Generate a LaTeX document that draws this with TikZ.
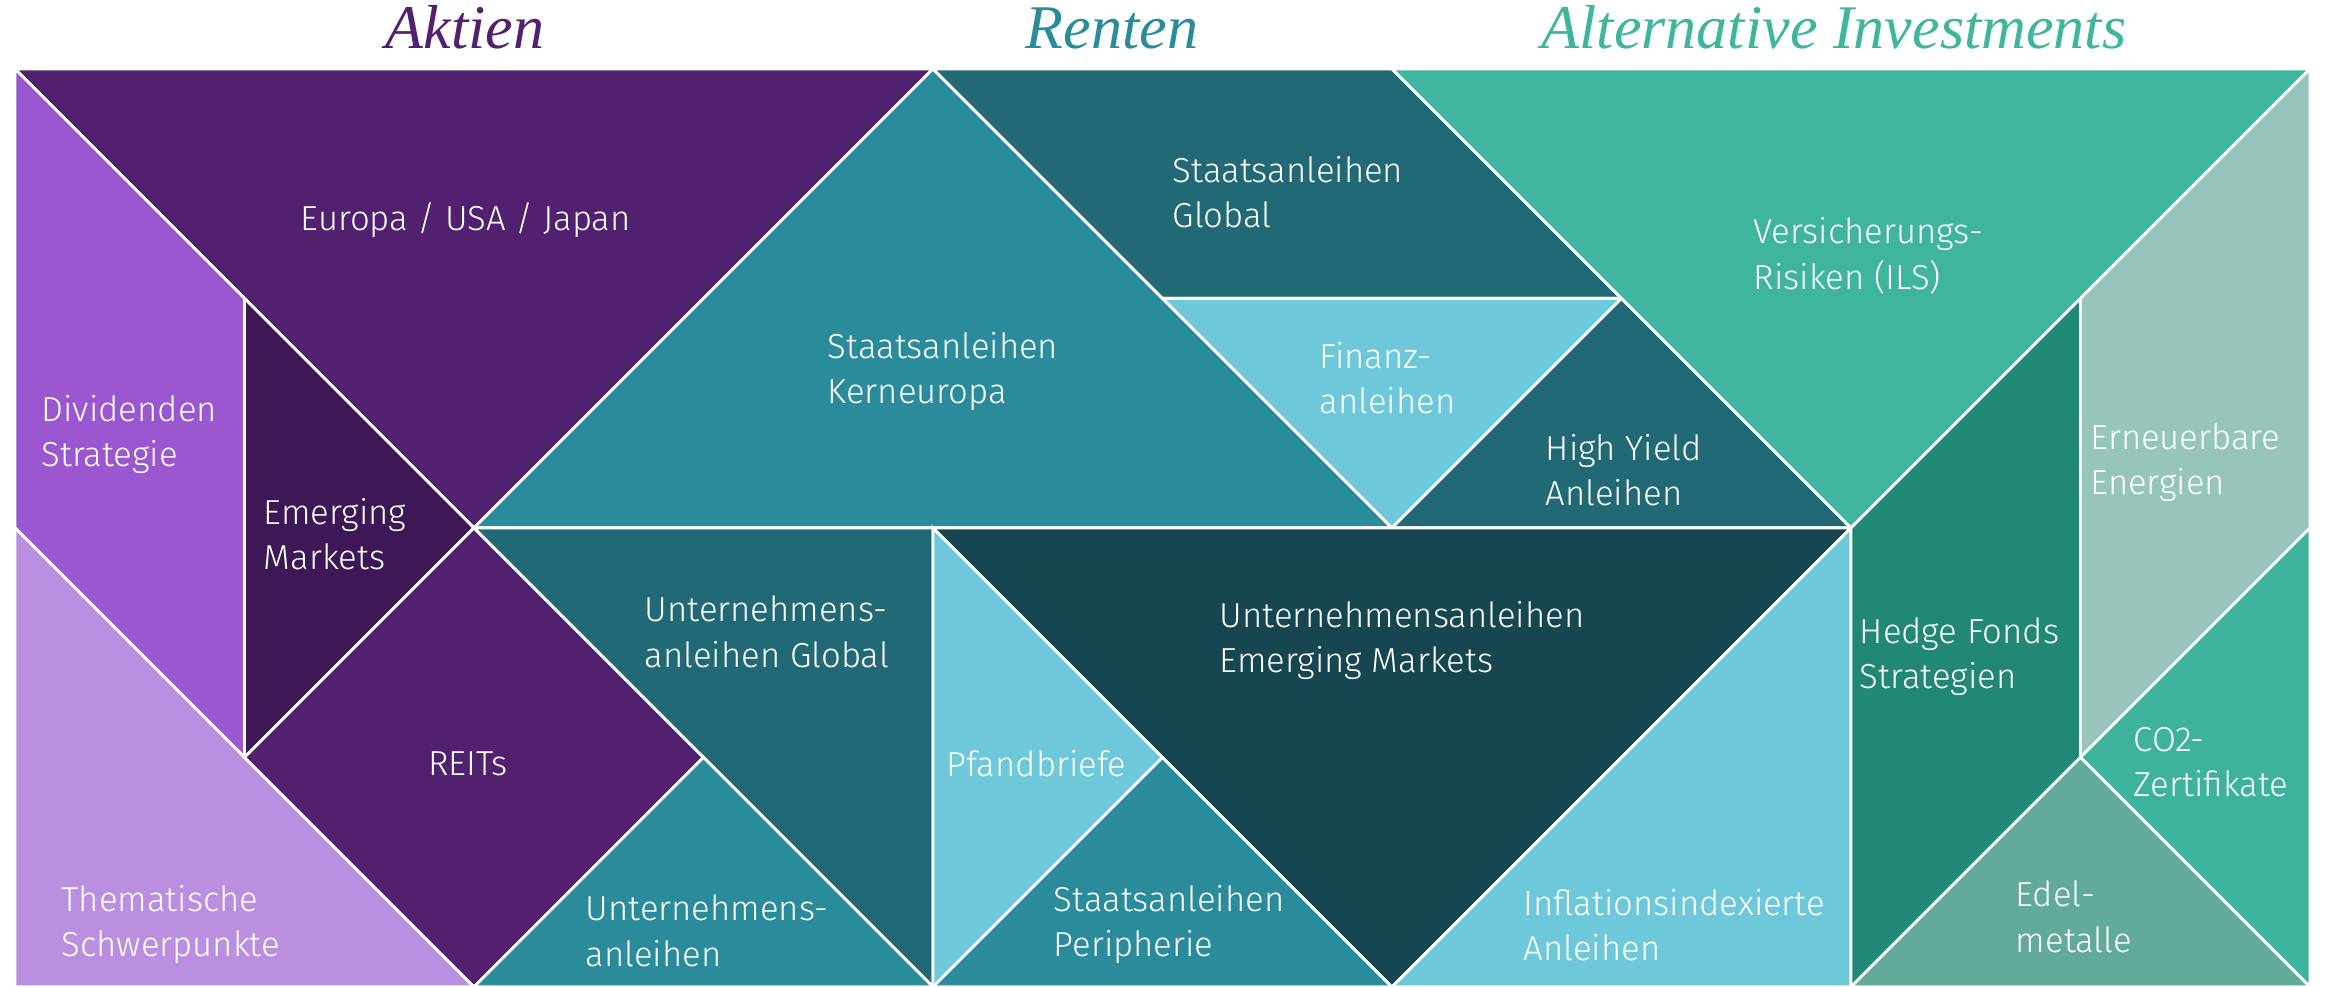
\documentclass[tikz,border=0pt]{standalone}
\usepackage{fontspec}
\newfontfamily\tileFont{Fira Sans Light}
\newfontfamily\titleFont{Liberation Serif}

\definecolor{aktienDark}{HTML}{51206F}
\definecolor{aktienMid}{HTML}{9A57D0}
\definecolor{aktienDeep}{HTML}{3E1856}
\definecolor{aktienLight}{HTML}{BB8FDF}
\definecolor{rentenTeal}{HTML}{2A8C9B}
\definecolor{rentenDark}{HTML}{216A75}
\definecolor{rentenLight}{HTML}{6DC9D9}
\definecolor{rentenDeep}{HTML}{164650}
\definecolor{altGreen}{HTML}{40B59D}
\definecolor{altPale}{HTML}{96C5BC}
\definecolor{altDark}{HTML}{218873}
\definecolor{altMid}{HTML}{3DB39C}
\definecolor{altSage}{HTML}{62AB9A}

\begin{document}
\begin{tikzpicture}[scale = 2]
	\tikzstyle{tileStyle} = [draw = white, line width = 0.7pt, line join = miter]
	\tikzstyle{labeledStyle} = [text = white, inner sep = 0pt, anchor = west, align = left, font = \tileFont\fontsize{8.6}{11.2}\selectfont]
	\tikzstyle{titleStyle} = [inner sep = 0pt, anchor = base, font = \titleFont\itshape\fontsize{15.4}{18}\selectfont]
	\useasboundingbox (-0.065, 0) rectangle (10.07, 4.30);
	\begin{scope}
	\clip (-0.065, 0) rectangle (10.07, 4.30);
	% Aktien
	\filldraw[tileStyle, fill = aktienDark] (0,4) -- (4,4) -- (2,2) -- cycle;
	\filldraw[tileStyle, fill = aktienMid] (0,4) -- (1,3) -- (1,1) -- (0,2) -- cycle;
	\filldraw[tileStyle, fill = aktienDeep] (1,3) -- (2,2) -- (1,1) -- cycle;
	\filldraw[tileStyle, fill = aktienLight] (0,2) -- (2,0) -- (0,0) -- cycle;
	\filldraw[tileStyle, fill = aktienDark] (2,2) -- (3,1) -- (2,0) -- (1,1) -- cycle;
	% Renten
	\filldraw[tileStyle, fill = rentenTeal] (2,2) -- (4,4) -- (6,2) -- cycle;
	\filldraw[tileStyle, fill = rentenDark] (4,4) -- (6,4) -- (7,3) -- (5,3) -- cycle;
	\filldraw[tileStyle, fill = rentenLight] (5,3) -- (7,3) -- (6,2) -- cycle;
	\filldraw[tileStyle, fill = rentenDark] (7,3) -- (8,2) -- (6,2) -- cycle;
	\filldraw[tileStyle, fill = rentenDark] (2,2) -- (4,2) -- (4,0) -- (3,1) -- cycle;
	\filldraw[tileStyle, fill = rentenTeal] (3,1) -- (4,0) -- (2,0) -- cycle;
	\filldraw[tileStyle, fill = rentenLight] (4,2) -- (5,1) -- (4,0) -- cycle;
	\filldraw[tileStyle, fill = rentenTeal] (5,1) -- (6,0) -- (4,0) -- cycle;
	\filldraw[tileStyle, fill = rentenDeep] (4,2) -- (8,2) -- (6,0) -- cycle;
	\filldraw[tileStyle, fill = rentenLight] (8,2) -- (8,0) -- (6,0) -- cycle;
	% Alternative Investments
	\filldraw[tileStyle, fill = altGreen] (6,4) -- (10,4) -- (8,2) -- cycle;
	\filldraw[tileStyle, fill = altPale] (10,4) -- (9,3) -- (9,1) -- (10,2) -- cycle;
	\filldraw[tileStyle, fill = altDark] (8,2) -- (9,3) -- (9,1) -- (8,0) -- cycle;
	\filldraw[tileStyle, fill = altMid] (10,2) -- (9,1) -- (10,0) -- cycle;
	\filldraw[tileStyle, fill = altSage] (9,1) -- (8,0) -- (10,0) -- cycle;
	\end{scope}
	% titles
	\node[titleStyle, text = aktienDark] (h0) at (1.961, 4.09) {Aktien};
	\node[titleStyle, text = rentenTeal] (h1) at (4.78, 4.09) {Renten};
	\node[titleStyle, text = altGreen] (h2) at (7.926, 4.09) {Alternative Investments};
	% labels
	\node[labeledStyle] (t0) at (1.242, 3.342) {Europa / USA / Japan};
	\node[labeledStyle] (t1) at (0.113, 2.405) {Dividenden\\Strategie};
	\node[labeledStyle] (t2) at (1.081, 1.974) {Emerging\\Markets};
	\node[labeledStyle] (t3) at (0.200, 0.270) {Thematische\\Schwerpunkte};
	\node[labeledStyle, anchor = center] (t4) at (1.974, 0.972) {REITs};
	\node[labeledStyle] (t5) at (3.538, 2.680) {Staatsanleihen\\Kerneuropa};
	\node[labeledStyle] (t6) at (5.041, 3.464) {Staatsanleihen\\Global};
	\node[labeledStyle] (t7) at (5.682, 2.654) {Finanz-\\anleihen};
	\node[labeledStyle] (t8) at (6.667, 2.253) {High Yield\\Anleihen};
	\node[labeledStyle] (t9) at (2.741, 1.547) {Unternehmens-\\anleihen Global};
	\node[labeledStyle] (t10) at (2.484, 0.244) {Unternehmens-\\anleihen};
	\node[labeledStyle] (t11) at (4.057, 0.972) {Pfandbriefe};
	\node[labeledStyle] (t12) at (4.523, 0.270) {Staatsanleihen\\Peripherie};
	\node[labeledStyle] (t13) at (5.246, 1.508) {Unternehmensanleihen\\Emerging Markets};
	\node[labeledStyle] (t14) at (6.571, 0.270) {Inflationsindexierte\\Anleihen};
	\node[labeledStyle] (t15) at (7.573, 3.185) {Versicherungs-\\Risiken (ILS)};
	\node[labeledStyle] (t16) at (9.041, 2.283) {Erneuerbare\\Energien};
	\node[labeledStyle] (t17) at (8.035, 1.438) {Hedge Fonds\\Strategien};
	\node[labeledStyle] (t18) at (9.229, 0.980) {CO2-\\Zertifikate};
	\node[labeledStyle] (t19) at (8.715, 0.305) {Edel-\\metalle};
\end{tikzpicture}
\end{document}
